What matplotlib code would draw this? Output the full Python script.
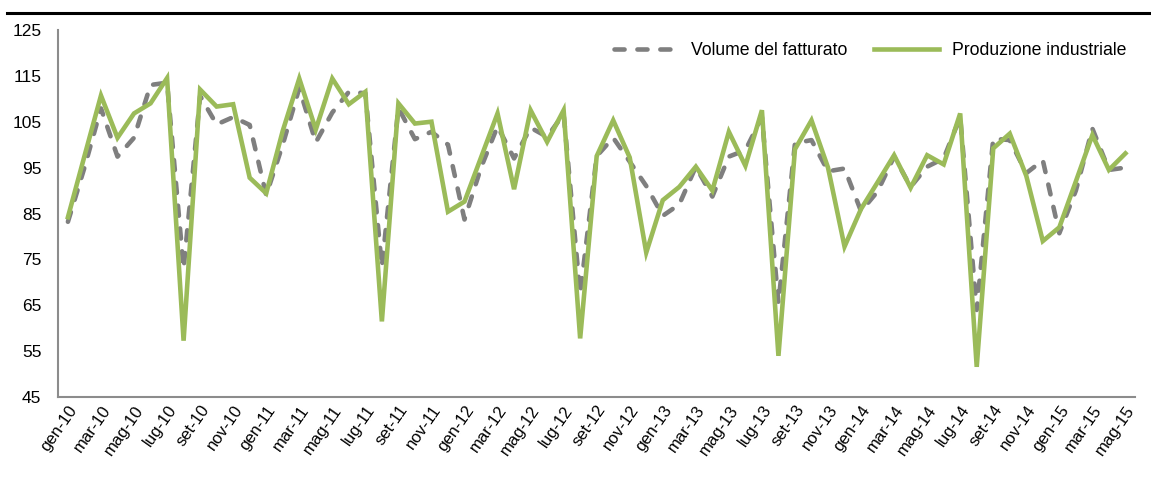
import numpy as np
import matplotlib.pyplot as plt
from matplotlib.lines import Line2D

plt.rcParams['font.family'] = ['Liberation Sans', 'DejaVu Sans']

mesi = ['gen', 'feb', 'mar', 'apr', 'mag', 'giu', 'lug', 'ago', 'set', 'ott', 'nov', 'dic']
anni = ['10', '11', '12', '13', '14', '15']
periodi = [m + '-' + a for a in anni for m in mesi][:65]   # gen-10 ... mag-15

# Volume del fatturato (indice)
fatturato = [83.2, 95.0, 107.9, 97.4, 101.5, 113.0, 113.5, 73.0, 110.6, 104.4, 106.0, 104.3,
             89.0, 100.0, 112.3, 100.5, 107.0, 111.5, 111.2, 73.4, 108.0, 101.2, 102.8, 100.0,
             83.7, 95.0, 104.0, 97.0, 103.7, 101.7, 106.7, 67.5, 97.5, 101.5, 96.3, 91.0,
             84.5, 87.0, 95.2, 88.7, 97.4, 98.8, 106.0, 65.5, 100.3, 101.0, 94.2, 94.8,
             85.5, 89.8, 97.4, 90.8, 95.2, 97.0, 106.0, 64.0, 101.3, 101.0, 93.8, 96.6,
             80.7, 90.0, 103.5, 94.5, 95.0]

# Produzione industriale (indice)
produzione = [84.2, 97.5, 110.7, 101.5, 106.8, 109.0, 114.5, 57.3, 112.0, 108.3, 108.8, 92.8,
              89.4, 103.0, 114.4, 103.3, 114.4, 108.8, 111.5, 61.5, 109.0, 104.6, 105.0, 85.4,
              87.6, 97.2, 106.8, 90.3, 107.5, 100.6, 107.5, 57.8, 97.5, 105.3, 97.2, 76.5,
              87.9, 90.8, 95.2, 90.0, 102.8, 95.4, 107.5, 54.0, 99.0, 105.3, 95.0, 77.8,
              86.0, 91.8, 97.7, 90.6, 97.7, 95.7, 106.8, 51.6, 99.2, 102.4, 93.2, 79.0,
              82.0, 92.0, 102.1, 94.5, 98.1]

x = np.arange(len(periodi))

fig = plt.figure(figsize=(11.51, 4.82), dpi=100)
ax = fig.add_axes([0.0504, 0.176, 0.936, 0.762])

ax.plot(x, fatturato, color='#7f7f7f', lw=3.3, dashes=(2.2, 2.8),
        dash_capstyle='round', solid_capstyle='round', label='Volume del fatturato')
ax.plot(x, produzione, color='#9bbb59', lw=3.3, solid_joinstyle='miter',
        label='Produzione industriale')

ax.set_xlim(-0.6, len(x) - 0.4)
ax.set_ylim(45, 125)
ax.set_yticks(np.arange(45, 126, 10))
ax.set_xticks(x[::2])
ax.set_xticklabels(periodi[::2], rotation=55, ha='right', va='top',
                   rotation_mode='anchor', fontsize=12)
ax.tick_params(axis='y', labelsize=12.5, length=0, pad=12)
ax.tick_params(axis='x', length=0, pad=4)

for s in ['top', 'right']:
    ax.spines[s].set_visible(False)
for s in ['left', 'bottom']:
    ax.spines[s].set_color('#8c8c8c')
    ax.spines[s].set_linewidth(1.5)

leg = ax.legend(loc='upper right', bbox_to_anchor=(1.006, 1.01), ncol=2, frameon=False,
                fontsize=12.7, handlelength=3.7, columnspacing=1.5, handletextpad=0.7)

# riga nera in alto
fig.add_artist(Line2D([0.006, 1.0], [0.974, 0.974], color='black', lw=2.2))

fig.savefig('out.png', dpi=100)
